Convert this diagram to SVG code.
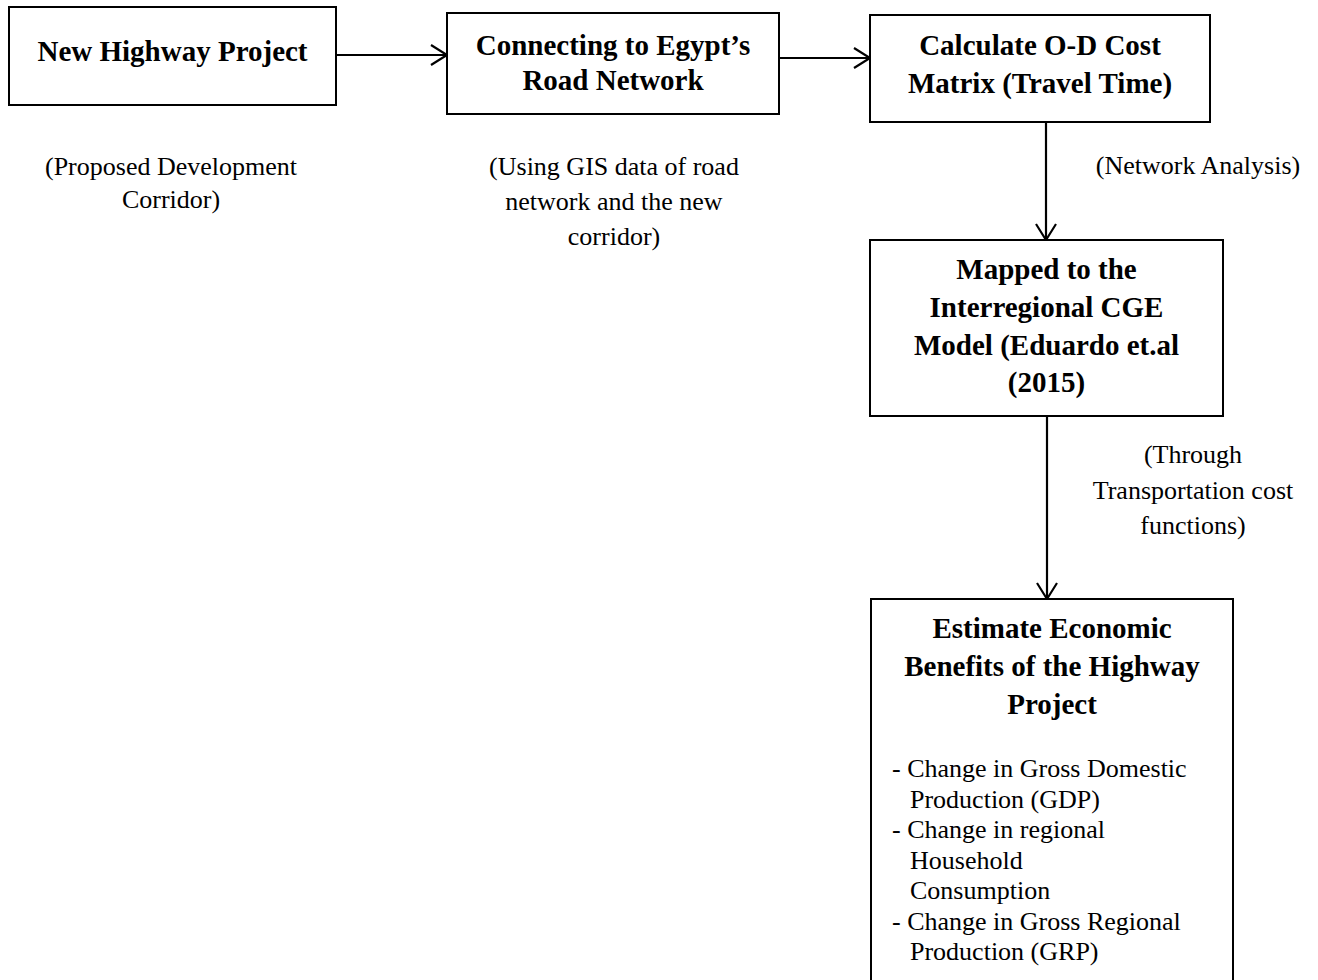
<svg xmlns="http://www.w3.org/2000/svg" width="1318" height="980" viewBox="0 0 1318 980">
<style>
.box{fill:#fff;stroke:#000;stroke-width:2}
.t{font-family:"Liberation Serif",serif;font-weight:bold;font-size:29px;text-anchor:middle;fill:#000}
.l{font-family:"Liberation Serif",serif;font-size:26px;text-anchor:middle;fill:#000}
.li{font-family:"Liberation Serif",serif;font-size:26px;fill:#000}
.c{stroke:#000;stroke-width:2.2;fill:none}
</style>
<defs>
<marker id="ah" markerWidth="22" markerHeight="24" refX="18" refY="12" orient="auto" markerUnits="userSpaceOnUse">
<path d="M2,2 L18,12 L2,22" fill="none" stroke="#000" stroke-width="2.2"/>
</marker>
</defs>
<rect width="1318" height="980" fill="#fff"/>
<g id="connectors">
<line class="c" x1="336" y1="55" x2="447" y2="55" marker-end="url(#ah)"/>
<line class="c" x1="779" y1="58" x2="870" y2="58" marker-end="url(#ah)"/>
<line class="c" x1="1046" y1="122" x2="1046" y2="240" marker-end="url(#ah)"/>
<line class="c" x1="1047" y1="416" x2="1047" y2="599" marker-end="url(#ah)"/>
</g>
<g id="n1">
<rect class="box" x="9" y="7" width="327" height="98"/>
<text class="t" x="172.5" y="61">New Highway Project</text>
</g>
<g id="n2">
<rect class="box" x="447" y="13" width="332" height="101"/>
<text class="t" x="613" y="55">Connecting to Egypt’s</text>
<text class="t" x="613" y="90">Road Network</text>
</g>
<g id="n3">
<rect class="box" x="870" y="15" width="340" height="107"/>
<text class="t" x="1040" y="55">Calculate O-D Cost</text>
<text class="t" x="1040" y="93">Matrix (Travel Time)</text>
</g>
<g id="n4">
<rect class="box" x="870" y="240" width="353" height="176"/>
<text class="t" x="1046.5" y="279">Mapped to the</text>
<text class="t" x="1046.5" y="317">Interregional CGE</text>
<text class="t" x="1046.5" y="355">Model (Eduardo et.al</text>
<text class="t" x="1046.5" y="392">(2015)</text>
</g>
<g id="n5">
<rect class="box" x="871" y="599" width="362" height="395"/>
<text class="t" x="1052" y="638">Estimate Economic</text>
<text class="t" x="1052" y="676">Benefits of the Highway</text>
<text class="t" x="1052" y="714">Project</text>
<text class="li" x="892" y="777">- Change in Gross Domestic</text>
<text class="li" x="910" y="808">Production (GDP)</text>
<text class="li" x="892" y="838">- Change in regional</text>
<text class="li" x="910" y="869">Household</text>
<text class="li" x="910" y="899">Consumption</text>
<text class="li" x="892" y="930">- Change in Gross Regional</text>
<text class="li" x="910" y="960">Production (GRP)</text>
</g>
<g id="label1">
<text class="l" x="171" y="175">(Proposed Development</text>
<text class="l" x="171" y="208">Corridor)</text>
</g>
<g id="label2">
<text class="l" x="614" y="175">(Using GIS data of road</text>
<text class="l" x="614" y="210">network and the new</text>
<text class="l" x="614" y="245">corridor)</text>
</g>
<g id="label3">
<text class="l" x="1198" y="174">(Network Analysis)</text>
</g>
<g id="label4">
<text class="l" x="1193" y="463">(Through</text>
<text class="l" x="1193" y="499">Transportation cost</text>
<text class="l" x="1193" y="534">functions)</text>
</g>
</svg>
